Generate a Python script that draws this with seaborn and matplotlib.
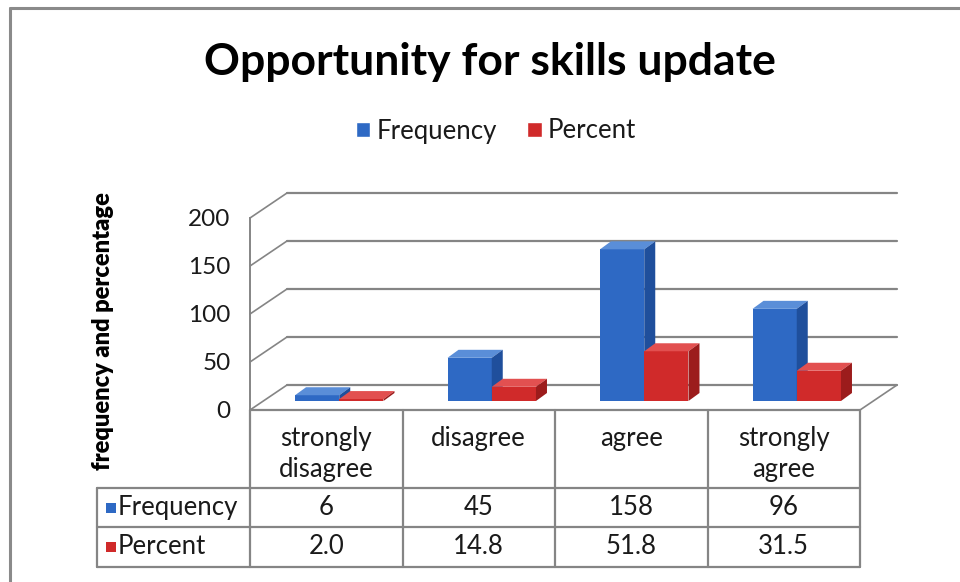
import numpy as np
import pandas as pd
import seaborn as sns
import matplotlib
matplotlib.use("Agg")
import matplotlib.pyplot as plt
from matplotlib.patches import Polygon, Rectangle, Patch
from matplotlib.colors import to_rgba

# ---------------- data ----------------
categories = ["strongly\ndisagree", "disagree", "agree", "strongly\nagree"]
frequency = [6, 45, 158, 96]
percent = [2.0, 14.8, 51.8, 31.5]
series = ["Frequency", "Percent"]
yticks = [0, 50, 100, 150, 200]
title = "Opportunity for skills update"
ylabel = "frequency and percentage"

# ---------------- style ----------------
sns.set_theme(style="white")
plt.rcParams["font.family"] = ["Lato", "DejaVu Sans"]

BLUE, BLUE_TOP, BLUE_SIDE = "#2E69C4", "#5A8ED8", "#1F4F9C"
RED, RED_TOP, RED_SIDE = "#D02A2A", "#E25050", "#9C1C1C"
GRID = "#858585"
TXT = "#1a1a1a"
FS = 18.5

W, H = 960, 582
fig = plt.figure(figsize=(W / 100, H / 100), dpi=100)
bg = fig.add_axes([0, 0, 1, 1])
bg.set_xlim(0, W)
bg.set_ylim(H, 0)
bg.axis("off")

# geometry (pixels)
FX0, FX1 = 250, 860     # front plane x-extent
FY0 = 410               # front y for value 0
PXU = 0.96              # pixels per unit
DX, DY = 37, -25        # depth offset of back wall
BOX, BOY = 13, -9       # offset of bars' front plane
ymax = yticks[-1]


def fy(v):
    return FY0 - v * PXU


# outer frame (top & left)
bg.plot([10, W], [8, 8], color="#8a8a8a", lw=2.2, zorder=1)
bg.plot([10, 10], [8, H], color="#8a8a8a", lw=2.2, zorder=1)

# back wall gridlines + side-wall diagonals
for v in yticks:
    yb = fy(v) + DY
    bg.plot([FX0 + DX, FX1 + DX], [yb, yb], color=GRID, lw=1.6, zorder=1)
    bg.plot([FX0, FX0 + DX], [fy(v), yb], color=GRID, lw=1.2, zorder=1)
# floor right edge
bg.plot([FX1, FX1 + DX], [fy(0), fy(0) + DY], color=GRID, lw=1.2, zorder=1)

# ---------------- bars ----------------
ax = fig.add_axes([(FX0 + BOX) / W, (H - (FY0 + BOY)) / H,
                   (FX1 - FX0) / W, ymax * PXU / H])
ax.patch.set_alpha(0)
df = pd.DataFrame({
    "category": categories * 2,
    "series": [s for s in series for _ in categories],
    "value": frequency + percent,
})
sns.barplot(data=df, x="category", y="value", hue="series",
            palette=[BLUE, RED], width=0.58, saturation=1, ax=ax,
            legend=False, linewidth=0)
ax.set_xlim(-0.5, len(categories) - 0.5)
ax.set_ylim(0, ymax)
ax.axis("off")

colw = (FX1 - FX0) / len(categories)
dxd = 11 / colw
dyd = 8 / PXU
for p in list(ax.patches):
    fc = p.get_facecolor()
    is_blue = np.allclose(fc, to_rgba(BLUE), atol=0.02)
    top_c, side_c = (BLUE_TOP, BLUE_SIDE) if is_blue else (RED_TOP, RED_SIDE)
    z = 2 if is_blue else 3
    p.set_zorder(z)
    x0, w, h = p.get_x(), p.get_width(), p.get_height()
    x1 = x0 + w
    top = Polygon([(x0, h), (x1, h), (x1 + dxd, h + dyd), (x0 + dxd, h + dyd)],
                  closed=True, facecolor=top_c, edgecolor="none",
                  zorder=z + 0.5, clip_on=False)
    side = Polygon([(x1, 0), (x1, h), (x1 + dxd, h + dyd), (x1 + dxd, dyd)],
                   closed=True, facecolor=side_c, edgecolor="none",
                   zorder=z + 0.5, clip_on=False)
    ax.add_patch(top)
    ax.add_patch(side)

# ---------------- front axis (tick labels) ----------------
fa = fig.add_axes([FX0 / W, (H - FY0) / H, (FX1 - FX0) / W, ymax * PXU / H])
fa.patch.set_alpha(0)
fa.set_ylim(0, ymax)
fa.set_xlim(0, 1)
fa.set_yticks(yticks)
fa.set_yticklabels([str(t) for t in yticks], fontsize=17.5, color=TXT)
fa.set_xticks([])
fa.tick_params(axis="y", length=0, pad=14)
for s in ["top", "right", "bottom"]:
    fa.spines[s].set_visible(False)
fa.spines["left"].set_color(GRID)
fa.spines["left"].set_linewidth(1.4)

# ---------------- data table ----------------
cb = np.linspace(FX0, FX1, len(categories) + 1)
ROW_TOP, ROW1, ROW2, ROW_BOT = FY0, 488, 527, 567
TX0 = 97
lc = dict(color=GRID, lw=1.6, zorder=1)
bg.plot([FX0, FX1], [ROW_TOP, ROW_TOP], **lc)
for yy in (ROW1, ROW2, ROW_BOT):
    bg.plot([TX0, FX1], [yy, yy], **lc)
for xx in cb:
    bg.plot([xx, xx], [ROW_TOP, ROW_BOT], **lc)
bg.plot([TX0, TX0], [ROW1, ROW_BOT], **lc)

for i, c in enumerate(categories):
    cx = (cb[i] + cb[i + 1]) / 2
    bg.text(cx, 426, c, ha="center", va="top", fontsize=FS, color=TXT,
            linespacing=1.3)
    bg.text(cx, (ROW1 + ROW2) / 2, f"{frequency[i]:d}", ha="center",
            va="center", fontsize=FS, color=TXT)
    bg.text(cx, (ROW2 + ROW_BOT) / 2, f"{percent[i]:.1f}", ha="center",
            va="center", fontsize=FS, color=TXT)

for (lab, col), (ya, yb) in zip(zip(series, [BLUE, RED]),
                                 [(ROW1, ROW2), (ROW2, ROW_BOT)]):
    yc = (ya + yb) / 2
    bg.add_patch(Rectangle((106, yc - 5), 10, 10, facecolor=col,
                           edgecolor="none", zorder=2))
    bg.text(118, yc, lab, ha="left", va="center", fontsize=FS, color=TXT)

# ---------------- title, legend, y label ----------------
bg.text(490, 62, title, ha="center", va="center", fontsize=32,
        fontweight="bold", color="#000000")
bg.text(103, 331, ylabel, ha="center", va="center", rotation=90,
        fontsize=17, fontweight="heavy", color="#000000")
fig.legend(handles=[Patch(facecolor=BLUE, label=series[0]),
                    Patch(facecolor=RED, label=series[1])],
           loc="center", bbox_to_anchor=(496 / W, 1 - 131 / H), ncol=2,
           frameon=False, fontsize=FS, handlelength=0.55, handleheight=0.55,
           handletextpad=0.25, columnspacing=1.2, labelcolor=TXT)

fig.savefig("out.png", dpi=100, facecolor="white")
